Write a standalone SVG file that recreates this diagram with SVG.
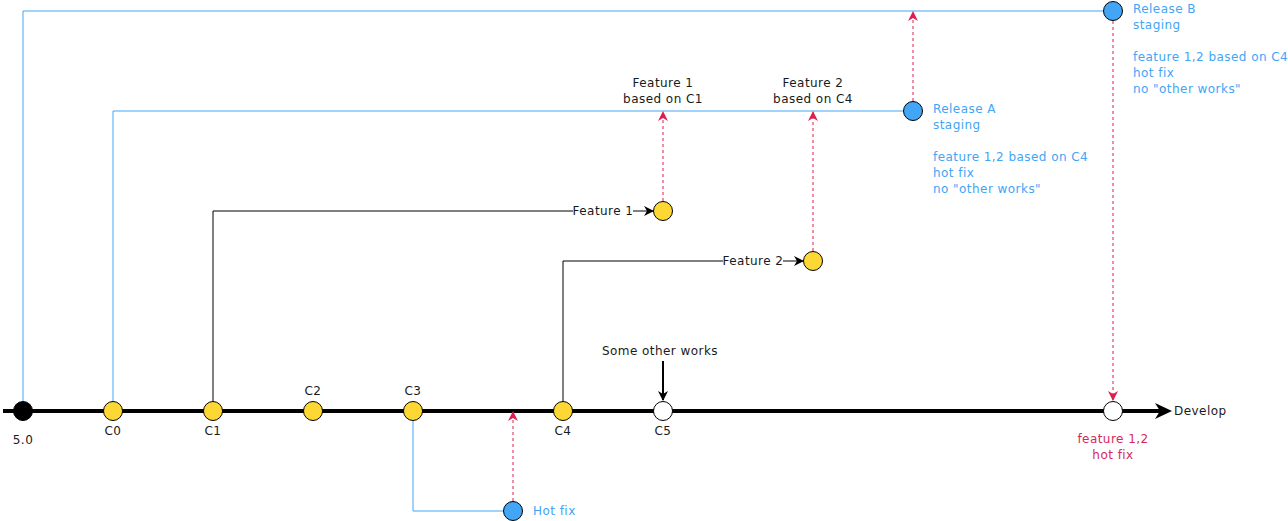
<svg xmlns="http://www.w3.org/2000/svg" width="1288" height="521" viewBox="0 0 1288 521">
<style>
text{font-family:"DejaVu Sans",sans-serif;font-size:12px;letter-spacing:0.45px;fill:#1a1a1a}
.c{text-anchor:middle}
.blue{fill:#42a5f5}
.red{fill:#d6295a}
.bl{stroke:#42a5f5;stroke-width:1;fill:none}
.k{stroke:#000;stroke-width:1;fill:none}
.rd{stroke:#dc1f4e;stroke-width:1;stroke-dasharray:3 3;fill:none}
.y{fill:#fdd835;stroke:#000;stroke-width:1}
.w{fill:#fff;stroke:#000;stroke-width:1}
.b{fill:#42a5f5;stroke:#000;stroke-width:1}
</style>
<defs>
<marker id="ar" viewBox="0 0 10 10" refX="9" refY="5" markerWidth="10" markerHeight="10" markerUnits="userSpaceOnUse" orient="auto">
<path d="M0,0 L10,5 L0,10 L3,5 Z" fill="#dc1f4e"/>
</marker>
<marker id="ak" viewBox="0 0 10 10" refX="9" refY="5" markerWidth="10" markerHeight="10" markerUnits="userSpaceOnUse" orient="auto">
<path d="M0,0 L10,5 L0,10 L3,5 Z" fill="#000"/>
</marker>
</defs>
<g id="connectors">
<path d="M3,411 H1162" stroke="#000" stroke-width="4" fill="none"/>
<path d="M1155,403 L1172,411 L1155,419 L1160,411 Z" fill="#000"/>
<path class="bl" d="M23,401 V11 H1103"/>
<path class="bl" d="M113,401 V111 H903"/>
<path class="bl" d="M413,421 V511 H503"/>
<path class="k" d="M213,401 V211 H653" marker-end="url(#ak)"/>
<path class="k" d="M563,401 V261 H803" marker-end="url(#ak)"/>
<path d="M663,361 V400" stroke="#000" stroke-width="2" fill="none" marker-end="url(#ak)"/>
<path class="rd" d="M663,201 V112" marker-end="url(#ar)"/>
<path class="rd" d="M813,251 V112" marker-end="url(#ar)"/>
<path class="rd" d="M913,101 V12" marker-end="url(#ar)"/>
<path class="rd" d="M513,501 V412" marker-end="url(#ar)"/>
<path class="rd" d="M1113,21 V400" marker-end="url(#ar)"/>
<rect x="573" y="203" width="60" height="16" fill="#fff"/>
<text x="603" y="215" class="c">Feature 1</text>
<rect x="723" y="253" width="60" height="16" fill="#fff"/>
<text x="753" y="265" class="c">Feature 2</text>
</g>
<g id="n50"><circle cx="23" cy="411" r="9.5" fill="#000" stroke="#000"/><text x="23" y="444" class="c">5.0</text></g>
<g id="c0"><circle class="y" cx="113" cy="411" r="9.5"/><text x="113" y="435" class="c">C0</text></g>
<g id="c1"><circle class="y" cx="213" cy="411" r="9.5"/><text x="213" y="435" class="c">C1</text></g>
<g id="c2"><circle class="y" cx="313" cy="411" r="9.5"/><text x="313" y="395" class="c">C2</text></g>
<g id="c3"><circle class="y" cx="413" cy="411" r="9.5"/><text x="413" y="395" class="c">C3</text></g>
<g id="c4"><circle class="y" cx="563" cy="411" r="9.5"/><text x="563" y="435" class="c">C4</text></g>
<g id="c5"><circle class="w" cx="663" cy="411" r="9.5"/><text x="663" y="435" class="c">C5</text></g>
<g id="other"><text x="660" y="355" class="c">Some other works</text></g>
<g id="final"><circle class="w" cx="1113" cy="411" r="9.5"/><text x="1113" y="443" class="c red">feature 1,2</text><text x="1113" y="459" class="c red">hot fix</text></g>
<g id="develop"><text x="1174" y="415">Develop</text></g>
<g id="hotfix"><circle class="b" cx="513" cy="511" r="9.5"/><text x="533" y="515" class="blue">Hot fix</text></g>
<g id="f1"><circle class="y" cx="663" cy="211" r="9.5"/><text x="663" y="87" class="c">Feature 1</text><text x="663" y="103" class="c">based on C1</text></g>
<g id="f2"><circle class="y" cx="813" cy="261" r="9.5"/><text x="813" y="87" class="c">Feature 2</text><text x="813" y="103" class="c">based on C4</text></g>
<g id="relA"><circle class="b" cx="913" cy="111" r="9.5"/>
<text x="933" y="113" class="blue">Release A</text><text x="933" y="129" class="blue">staging</text>
<text x="933" y="161" class="blue">feature 1,2 based on C4</text><text x="933" y="177" class="blue">hot fix</text><text x="933" y="193" class="blue">no "other works"</text></g>
<g id="relB"><circle class="b" cx="1113" cy="11" r="9.5"/>
<text x="1133" y="13" class="blue">Release B</text><text x="1133" y="29" class="blue">staging</text>
<text x="1133" y="61" class="blue">feature 1,2 based on C4</text><text x="1133" y="77" class="blue">hot fix</text><text x="1133" y="93" class="blue">no "other works"</text></g>
</svg>
